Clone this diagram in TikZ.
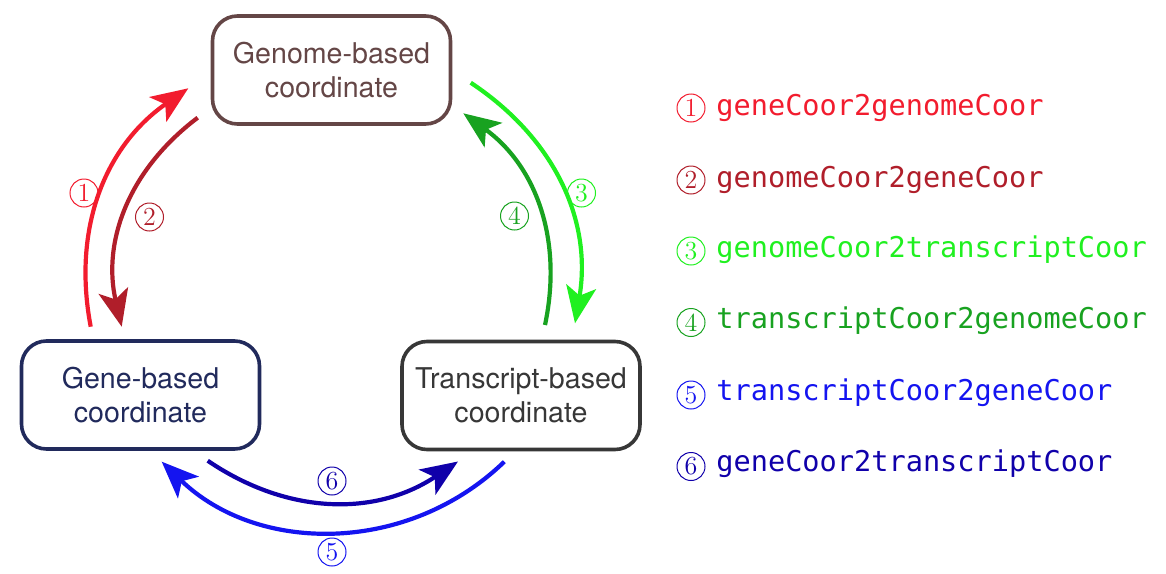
\documentclass[tikz,border=0pt]{standalone}
\usepackage{fontspec}
\setsansfont{TeX Gyre Heros}
\setmonofont{DejaVu Sans Mono}
\usetikzlibrary{arrows.meta}
\definecolor{cRed}{RGB}{242,28,46}
\definecolor{cDRed}{RGB}{176,30,42}
\definecolor{cLGreen}{RGB}{32,240,32}
\definecolor{cGreen}{RGB}{24,162,32}
\definecolor{cBlue}{RGB}{20,20,240}
\definecolor{cDBlue}{RGB}{16,0,170}
\definecolor{cBrown}{RGB}{100,70,70}
\definecolor{cNavy}{RGB}{33,42,92}
\definecolor{cGray}{RGB}{55,55,55}
\begin{document}
\begin{tikzpicture}[x=0.5pt,y=-0.5pt,
  box/.style={draw, rectangle, rounded corners=12.5pt, line width=1.8pt,
    minimum width=119pt, minimum height=54pt, align=center,
    font=\sffamily\fontsize{14.3}{17}\selectfont},
  conn/.style={line width=2.1pt, -{Stealth[length=18.5pt, width=15pt, inset=4.5pt]}},
  lab/.style={circle, draw, line width=0.5pt, inner sep=0pt, minimum size=14pt,
    font=\fontsize{13}{13}\selectfont},
  legtext/.style={anchor=base west, inner sep=0pt, font=\ttfamily\fontsize{14.3}{17}\selectfont}]
\useasboundingbox (0,0) rectangle (1166,573);
% boxes
\node[box, draw=cBrown, text=cBrown] (genome) at (331.5,70) {Genome-based\\coordinate};
\node[box, draw=cNavy, text=cNavy] (gene) at (140.5,395) {Gene-based\\coordinate};
\node[box, draw=cGray, text=cGray] (trans) at (521,395.5) {Transcript-based\\coordinate};
% connector end points
\coordinate (a1s) at (90.7,326.7);  \coordinate (a1e) at (188.3,88.3);
\coordinate (a2s) at (197.7,117.7); \coordinate (a2e) at (121.7,326.7);
\coordinate (a3s) at (470.7,82.7);  \coordinate (a3e) at (575,323.3);
\coordinate (a4s) at (545,325);     \coordinate (a4e) at (463.3,113.3);
\coordinate (a5s) at (504.3,461.7); \coordinate (a5e) at (161.7,461.7);
\coordinate (a6s) at (207.7,460.7); \coordinate (a6e) at (458,461.5);
% connectors
\draw[conn, cRed] (a1s) to[bend left=33] (a1e);
\draw[conn, cDRed] (a2s) to[bend right=33] (a2e);
\draw[conn, cLGreen] (a3s) to[bend left=33] (a3e);
\draw[conn, cGreen] (a4s) to[bend right=33] (a4e);
\draw[conn, cBlue] (a5s) to[bend left=44] (a5e);
\draw[conn, cDBlue] (a6s) to[bend right=34] (a6e);
% labels
\node[lab, cRed] (l1) at (84,193) {1};
\node[lab, cDRed] (l2) at (149.5,217) {2};
\node[lab, cLGreen] (l3) at (581.5,193) {3};
\node[lab, cGreen] (l4) at (514.5,216) {4};
\node[lab, cBlue] (l5) at (332,552) {5};
\node[lab, cDBlue] (l6) at (332,481) {6};
% legend
\node[lab, cRed] (k1) at (691,108) {1};
\node[legtext, cRed] (t1) at (716,115) {geneCoor2genomeCoor};
\node[lab, cDRed] (k2) at (691,180) {2};
\node[legtext, cDRed] (t2) at (716,187) {genomeCoor2geneCoor};
\node[lab, cLGreen] (k3) at (691,251) {3};
\node[legtext, cLGreen] (t3) at (716,257) {genomeCoor2transcriptCoor};
\node[lab, cGreen] (k4) at (691,322.5) {4};
\node[legtext, cGreen] (t4) at (716,328) {transcriptCoor2genomeCoor};
\node[lab, cBlue] (k5) at (691,395) {5};
\node[legtext, cBlue] (t5) at (716,400.7) {transcriptCoor2geneCoor};
\node[lab, cDBlue] (k6) at (691,466.5) {6};
\node[legtext, cDBlue] (t6) at (716,471.7) {geneCoor2transcriptCoor};
\end{tikzpicture}
\end{document}
